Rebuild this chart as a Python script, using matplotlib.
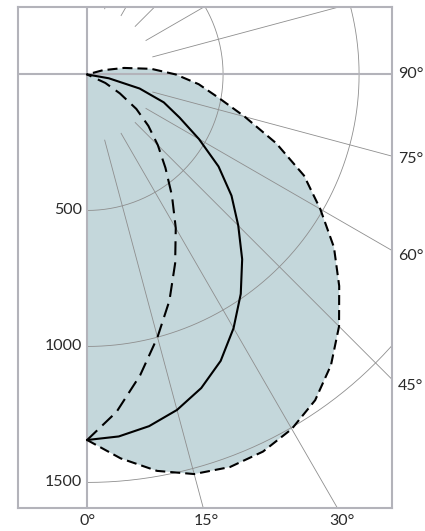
import numpy as np
import matplotlib
matplotlib.use("Agg")
import matplotlib.pyplot as plt

# polar light distribution, angle in degrees (0 = straight down, 90 = horizontal), intensity in cd
OUTER_ANG = [0, 5, 10, 15, 20, 25, 30, 35, 40, 45, 50, 55, 60, 65, 70, 75, 80, 85, 90, 95, 100, 105, 110]
OUTER_CD = [1344, 1417, 1480, 1521, 1536, 1530, 1505, 1462, 1395, 1310, 1210, 1108, 990, 880, 740,
            600, 490, 412, 326, 237, 138, 60, 0]

SOLID_ANG = [0, 5, 10, 15, 20, 25, 30, 35, 40, 45, 50, 55, 60, 65, 70, 75, 80, 83]
SOLID_CD = [1344, 1336, 1313, 1277, 1227, 1162, 1077, 985, 887, 786, 693, 590, 475, 375, 300,
            200, 81, 0]

DASH_ANG = [0, 5, 10, 15, 20, 25, 30, 35, 40, 45, 50, 55, 60, 65, 69]
DASH_CD = [1344, 1245, 1123, 1000, 885, 766, 652, 544, 448, 368, 294, 221, 139, 74, 0]

RINGS = [500, 1000, 1500]
SPOKES = [15, 30, 45, 60, 75, 105, 120, 135, 150, 165]
SPOKE_START = 250
BOTTOM_LABELS = [0, 15, 30]
RIGHT_LABELS = [45, 60, 75, 90]

# view window in cd units
XMIN, XMAX = -254, 1121
YMIN, YMAX = -1594, 248

FRAME = "#b3b3ba"
GRID = "#8e8e8e"
FILL = "#c4d7db"
TEXT = "#2a2a2a"


def to_xy(ang, cd):
    a = np.radians(np.asarray(ang, dtype=float))
    r = np.asarray(cd, dtype=float)
    return r * np.sin(a), -r * np.cos(a)


plt.rcParams["font.family"] = ["Lato", "DejaVu Sans"]

fig = plt.figure(figsize=(4.25, 5.31), dpi=100)
ax = fig.add_axes([18 / 425, 23 / 531, 374 / 425, 501 / 531])
ax.set_xlim(XMIN, XMAX)
ax.set_ylim(YMIN, YMAX)
ax.set_aspect("equal", adjustable="box")
ax.set_xticks([]); ax.set_yticks([])
for sp in ax.spines.values():
    sp.set_color(FRAME); sp.set_linewidth(1.5)

# fill under outer curve
ox, oy = to_xy(OUTER_ANG, OUTER_CD)
ax.fill(np.r_[0, ox], np.r_[0, oy], color=FILL, lw=0, zorder=1)

# grid: rings and spokes
t = np.linspace(0, 180, 361)
for r in RINGS:
    gx, gy = to_xy(t, np.full_like(t, r))
    ax.plot(gx, gy, color=GRID, lw=0.6, zorder=2)
for a in SPOKES:
    sx, sy = to_xy([a, a], [SPOKE_START, 3000])
    ax.plot(sx, sy, color=GRID, lw=0.6, zorder=2)

ax.axhline(0, color=FRAME, lw=1.5, zorder=3)
ax.axvline(0, color=FRAME, lw=1.5, zorder=3)

# curves
ax.plot(ox, oy, color="black", lw=1.5, dashes=(4.8, 2.4), zorder=4)
sx, sy = to_xy(SOLID_ANG, SOLID_CD)
ax.plot(sx, sy, color="black", lw=1.5, zorder=4)
dx, dy = to_xy(DASH_ANG, DASH_CD)
ax.plot(dx, dy, color="black", lw=1.5, dashes=(6.7, 3.4), zorder=4)

# ring labels
for r in RINGS:
    ax.text(-18, -r, str(r), ha="right", va="center", fontsize=11.5, color=TEXT)

# angle labels outside the frame
ext = 37  # ~10 px beyond the frame along the spoke
for a in BOTTOM_LABELS:
    rad = np.radians(a)
    x = (-YMIN / np.cos(rad) + ext) * np.sin(rad)
    ax.text(x, YMIN - 48, f"{a}°", ha="center", va="center", fontsize=11.5, color=TEXT,
            clip_on=False)
for a in RIGHT_LABELS:
    rad = np.radians(a)
    y = -(XMAX / np.sin(rad) + ext) * np.cos(rad)
    ax.text(XMAX + 22, y, f"{a}°", ha="left", va="center", fontsize=11.5, color=TEXT,
            clip_on=False)

fig.savefig("out.png", dpi=100)
